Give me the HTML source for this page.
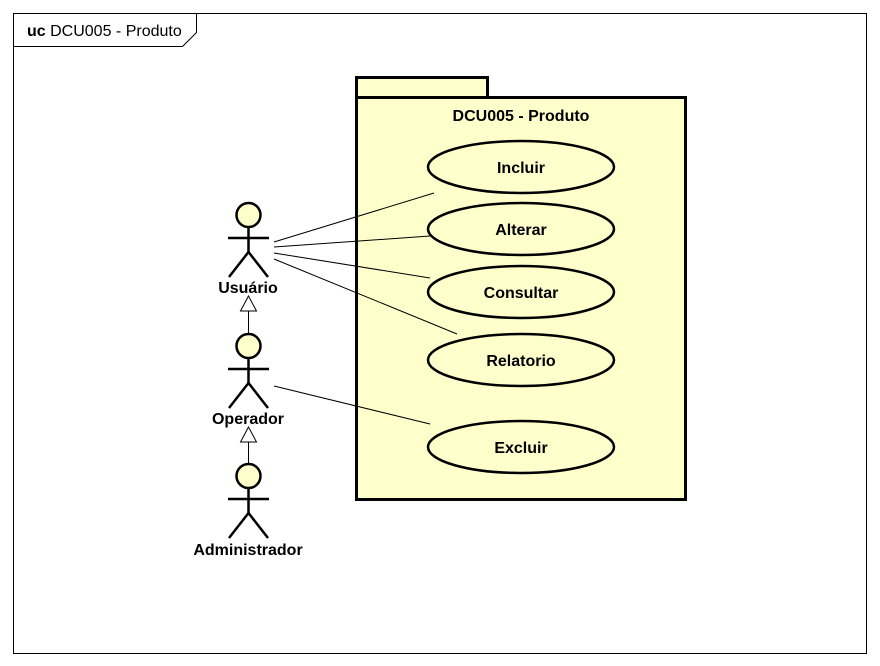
<html><body style="margin:0;background:#fff">
<svg width="880" height="666" xmlns="http://www.w3.org/2000/svg" font-family="Liberation Sans, Arial, sans-serif">
<rect x="13.5" y="13.5" width="853" height="640" fill="#fff" stroke="#000"/>
<path d="M13.5 46.5 H182.5 L196.5 32.5 V13.5" fill="none" stroke="#000"/>
<text x="27" y="36" font-size="16"><tspan font-weight="bold">uc</tspan> DCU005 - Produto</text>
<g fill="#ffffcc" stroke="#000" stroke-width="3">
<rect x="356.5" y="77.5" width="131" height="20"/>
<rect x="356.5" y="97.5" width="329" height="402"/>
</g>
<text x="521" y="121" font-size="16" font-weight="bold" text-anchor="middle">DCU005 - Produto</text>
<g stroke="#000" stroke-width="1">
<line x1="274" y1="242" x2="434" y2="193"/>
<line x1="274" y1="247" x2="430" y2="236"/>
<line x1="274" y1="253" x2="430" y2="278"/>
<line x1="274" y1="259" x2="457" y2="334"/>
<line x1="274" y1="386" x2="430" y2="424"/>
<line x1="248.5" y1="311" x2="248.5" y2="334"/>
<line x1="248.5" y1="442" x2="248.5" y2="464"/>
</g>
<g fill="#fff" stroke="#000"><path d="M248.5 296 L240.5 311 H256.5 Z"/><path d="M248.5 427 L240.5 442 H256.5 Z"/></g>
<g fill="#ffffcc" stroke="#000" stroke-width="2.5">
<ellipse cx="521" cy="167" rx="93" ry="26"/>
<ellipse cx="521" cy="229" rx="93" ry="26"/>
<ellipse cx="521" cy="292" rx="93" ry="26"/>
<ellipse cx="521" cy="360" rx="93" ry="26"/>
<ellipse cx="521" cy="447" rx="93" ry="26"/>
</g>
<g font-size="16" font-weight="bold" text-anchor="middle">
<text x="521" y="173">Incluir</text>
<text x="521" y="235">Alterar</text>
<text x="521" y="298">Consultar</text>
<text x="521" y="366">Relatorio</text>
<text x="521" y="453">Excluir</text>
<text x="248" y="293">Usuário</text>
<text x="248" y="424">Operador</text>
<text x="248" y="555">Administrador</text>
</g>
<g id="a" stroke="#000" stroke-width="2.5" fill="none">
<circle cx="248.5" cy="215" r="12" fill="#ffffcc"/>
<line x1="248.5" y1="227" x2="248.5" y2="252"/>
<line x1="228" y1="238" x2="269" y2="238"/>
<path d="M229 277 L248.5 252 L268 277"/>
</g>
<use href="#a" y="131"/>
<use href="#a" y="261"/>
</svg>
</body></html>
